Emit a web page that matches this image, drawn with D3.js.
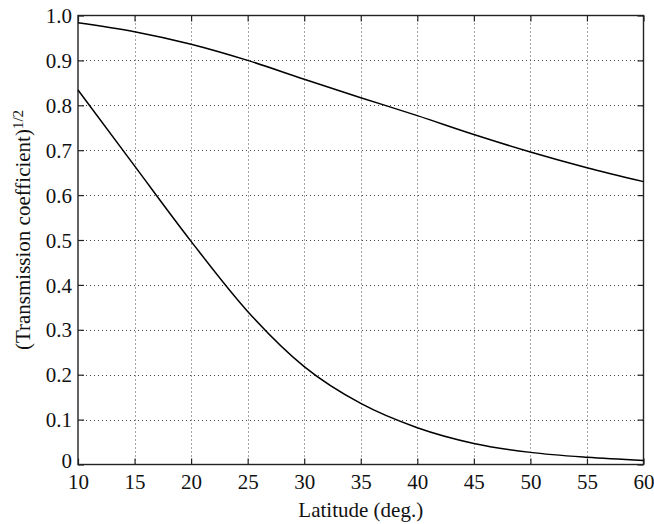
<!DOCTYPE html>
<html>
<head>
<meta charset="utf-8">
<script src="https://cdn.jsdelivr.net/npm/d3@7"></script>
<style>
  html, body { margin: 0; padding: 0; background: #fff; }
  svg { display: block; }
  text { font-family: "Liberation Serif", "Times New Roman", "DejaVu Serif", serif; fill: #111; }
</style>
</head>
<body>
<svg id="chart" width="654" height="524"></svg>
<script>
// Latitude samples (degrees)
const latitude = [10, 15, 20, 25, 30, 35, 40, 45, 50, 55, 60];
// Square root of the transmission coefficient, upper and lower curves
const upperCurve = [0.984, 0.964, 0.936, 0.900, 0.858, 0.817, 0.777, 0.735, 0.696, 0.661, 0.630];
const lowerCurve = [0.834, 0.665, 0.497, 0.341, 0.218, 0.136, 0.082, 0.047, 0.027, 0.016, 0.009];
// Axis ticks
const xTicks = [10, 15, 20, 25, 30, 35, 40, 45, 50, 55, 60];
const yTicks = [0, 0.1, 0.2, 0.3, 0.4, 0.5, 0.6, 0.7, 0.8, 0.9, 1.0];

const svg = d3.select("#chart");
const margin = { left: 78, top: 15.5, right: 10.5, bottom: 59.5 };
const W = 654, H = 524;
const x = d3.scaleLinear().domain([10, 60]).range([margin.left, W - margin.right]);
const y = d3.scaleLinear().domain([0, 1]).range([H - margin.bottom, margin.top]);

const x0 = x.range()[0], x1 = x.range()[1];
const y0 = y.range()[0], y1 = y.range()[1];
const serif = "'Liberation Serif', 'Times New Roman', serif";

// Dotted grid
const grid = svg.append("g").attr("stroke", "#444").attr("stroke-width", 1)
  .attr("stroke-dasharray", "1,3");
grid.selectAll("line.gx").data(xTicks.slice(1, -1)).join("line")
  .attr("x1", d => Math.round(x(d)) + 0.5).attr("x2", d => Math.round(x(d)) + 0.5)
  .attr("y1", y1).attr("y2", y0);
grid.selectAll("line.gy").data(yTicks.slice(1, -1)).join("line")
  .attr("y1", d => Math.round(y(d)) + 0.5).attr("y2", d => Math.round(y(d)) + 0.5)
  .attr("x1", x0).attr("x2", x1);

// Axes with inward ticks on all four sides
const tickLen = 6;
const fmtY = d => d === 0 ? "0" : d3.format(".1f")(d);

const axBottom = svg.append("g").attr("transform", `translate(0,${y0})`)
  .call(d3.axisBottom(x).tickValues(xTicks).tickSize(-tickLen).tickPadding(10).tickFormat(d3.format("d")));
const axTop = svg.append("g").attr("transform", `translate(0,${y1})`)
  .call(d3.axisTop(x).tickValues(xTicks).tickSize(-tickLen).tickFormat(""));
const axLeft = svg.append("g").attr("transform", `translate(${x0},0)`)
  .call(d3.axisLeft(y).tickValues(yTicks).tickSize(-tickLen).tickPadding(6).tickFormat(fmtY));
const axRight = svg.append("g").attr("transform", `translate(${x1},0)`)
  .call(d3.axisRight(y).tickValues(yTicks).tickSize(-tickLen).tickFormat(""));

[axBottom, axTop, axLeft, axRight].forEach(g => {
  g.attr("font-family", serif);
  g.select(".domain").remove();
  g.selectAll(".tick line").attr("stroke", "#222").attr("stroke-width", 1.2);
  g.selectAll("text").style("font-family", serif)
    .style("font-size", "21px").attr("fill", "#111");
});
axBottom.selectAll("text").attr("dy", "0.71em");
// The zero label sits a touch higher so it clears the "10" below it
axLeft.selectAll("text").attr("dy", d => d === 0 ? "0.12em" : "0.34em");

// Frame
svg.append("rect").attr("x", x0).attr("y", y1)
  .attr("width", x1 - x0).attr("height", y0 - y1)
  .attr("fill", "none").attr("stroke", "#222").attr("stroke-width", 1.4);

// Curves
const line = d3.line().x(d => x(d[0])).y(d => y(d[1])).curve(d3.curveMonotoneX);
[upperCurve, lowerCurve].forEach(series => {
  svg.append("path")
    .datum(latitude.map((lat, i) => [lat, series[i]]))
    .attr("d", line)
    .attr("fill", "none").attr("stroke", "#000").attr("stroke-width", 1.5);
});

// Axis titles
svg.append("text")
  .attr("x", (x0 + x1) / 2).attr("y", 517)
  .attr("text-anchor", "middle").style("font-size", "21px")
  .text("Latitude (deg.)");

const yTitle = svg.append("text")
  .attr("transform", `translate(30,${(y0 + y1) / 2 - 10}) rotate(-90)`)
  .attr("text-anchor", "middle").style("font-size", "21px");
yTitle.append("tspan").text("(Transmission coefficient)");
yTitle.append("tspan").attr("dy", "-0.45em").style("font-size", "15px").text("1/2");
</script>
</body>
</html>
